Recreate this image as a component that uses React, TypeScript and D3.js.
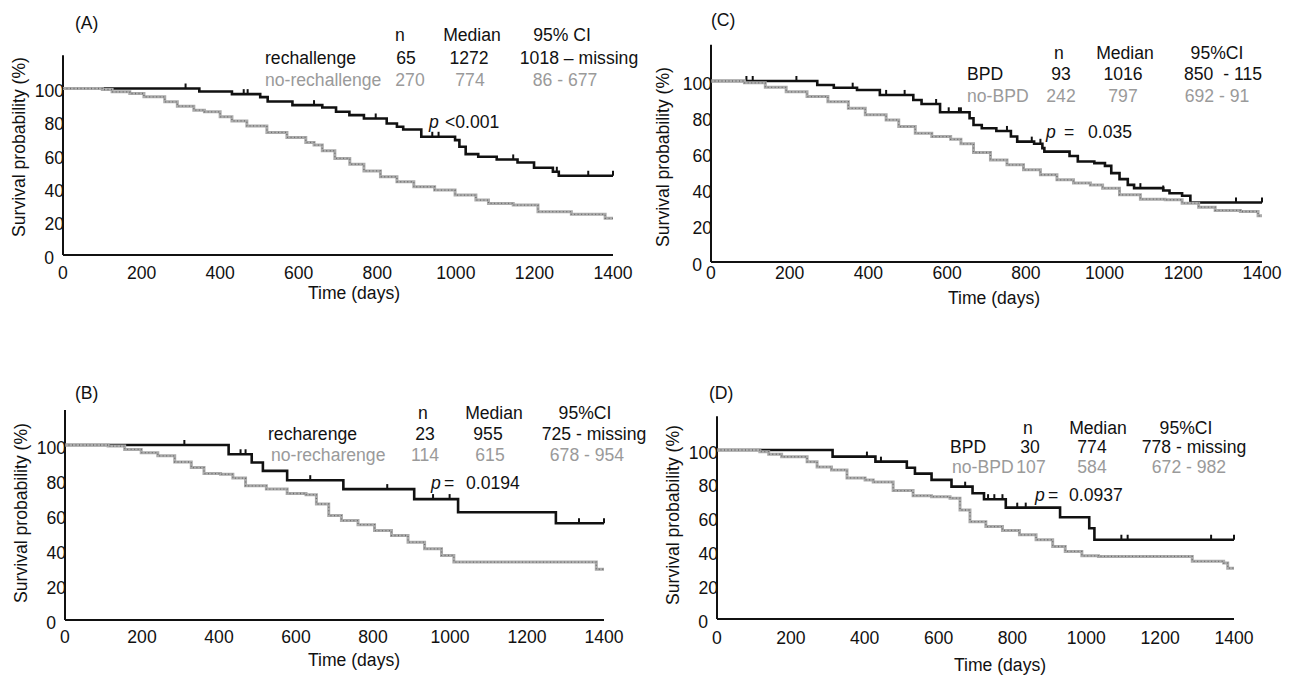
import React from 'react';
import * as d3 from 'd3';

type Pt = [number, number];

const xTicks = [0, 200, 400, 600, 800, 1000, 1200, 1400];
const yTicks = [0, 20, 40, 60, 80, 100];

// ---------- Panel A ----------
const aRechallenge: Pt[] = [[0,100],[347,98.2],[430,96.6],[502,94.8],[521,92.2],[584,90],[660,88.6],[695,86],[729,84],[766,82],[824,79],[850,77],[866,75.4],[912,71],[998,69],[1009,65],[1025,60.6],[1057,59],[1104,57.4],[1157,55.6],[1199,52.4],[1247,50],[1262,47.6],[1400,47.6]];
const aRechallengeCensor = [312, 460, 470, 639, 796, 940, 956, 1146, 1257, 1337, 1400];
const aNoRechallenge: Pt[] = [[0,100],[100,99.4],[125,98],[170,97],[206,95],[259,92],[291,89.4],[333,87],[360,86],[400,83],[430,80.5],[468,77.5],[519,73.6],[570,70.6],[618,67.6],[639,66],[660,62.6],[692,58],[730,54.5],[766,50.5],[808,47],[850,44],[893,41],[946,39],[998,36],[1051,33],[1083,31],[1146,30],[1209,26],[1294,24.4],[1380,22],[1400,22]];
const aHeader = ['n', 'Median', '95% CI'];
const aRow1 = ['rechallenge', '65', '1272', '1018 – missing'];
const aRow2 = ['no-rechallenge', '270', '774', '86 - 677'];
const aP = ['p', '', '<0.001'];

// ---------- Panel B ----------
const bRecharenge: Pt[] = [[0,100],[425,94.7],[485,90],[514,85.2],[577,79.9],[723,74.8],[907,69.1],[1021,61.6],[1275,55.3],[1400,55.3]];
const bRecharengeCensor = [310, 456, 469, 637, 837, 956, 999, 1335, 1400];
const bNoRecharenge: Pt[] = [[0,100],[112,99.4],[155,97.5],[198,95.6],[241,93.8],[285,90.3],[328,87.1],[361,83.7],[404,83.3],[436,81.1],[469,76.7],[523,74.8],[577,72.3],[626,71.6],[653,66.3],[685,59.7],[718,56.8],[761,54.5],[804,51.1],[848,48.3],[891,44.5],[934,40.7],[978,36.9],[1010,33.1],[1380,29],[1400,29]];
const bHeader = ['n', 'Median', '95%CI'];
const bRow1 = ['recharenge', '23', '955', '725 - missing'];
const bRow2 = ['no-recharenge', '114', '615', '678 - 954'];
const bP = ['p', '=', '0.0194'];

// ---------- Panel C ----------
const cBPD: Pt[] = [[0,100],[270,97.8],[312,96.3],[371,95],[429,92.3],[514,89.5],[535,87.3],[582,82.7],[657,79.4],[667,75.7],[688,73.9],[725,72.4],[762,69.3],[778,66.5],[821,65.3],[842,62.9],[847,61],[911,58.6],[932,55.5],[974,54.6],[1001,53.1],[1017,49.1],[1038,45.8],[1059,42.6],[1075,40.8],[1149,39.5],[1165,38],[1197,36.6],[1218,32.9],[1400,32.9]];
const cBPDCensor = [90, 106, 217, 360, 445, 492, 572, 604, 630, 635, 752, 815, 837, 1091, 1149, 1334, 1400];
const cNoBPD: Pt[] = [[0,100],[85,99],[138,96.5],[191,94],[244,91.4],[297,88.6],[349,84.9],[392,81.3],[445,78.5],[477,74.8],[519,71.1],[561,69.3],[609,67.8],[635,65.3],[667,60.5],[710,56.4],[752,53.7],[794,50.9],[837,48.2],[879,45.4],[921,43.6],[964,42.6],[995,40.8],[1038,37.1],[1091,34.7],[1154,34.4],[1197,32.5],[1239,30.3],[1281,28.5],[1345,27.9],[1390,25.5],[1400,25.5]];
const cHeader = ['n', 'Median', '95%CI'];
const cRow1 = ['BPD', '93', '1016', '850  - 115'];
const cRow2 = ['no-BPD', '242', '797', '692 - 91'];
const cP = ['p', '=', '0.035'];

// ---------- Panel D ----------
const dBPD: Pt[] = [[0,100],[313,96.1],[429,93.1],[514,89.5],[536,86],[581,82.3],[635,78.3],[692,74.4],[723,70.9],[782,65.9],[929,60.2],[1008,53.7],[1022,46.9],[1400,46.9]];
const dBPDCensor = [406, 444, 672, 734, 751, 773, 813, 836, 1095, 1112, 1338, 1400];
const dNoBPD: Pt[] = [[0,100],[116,99],[140,97.5],[175,96],[244,93],[271,90],[310,88.2],[352,83.5],[401,82.3],[423,81],[477,76],[531,73],[581,72.4],[631,71.5],[658,64.5],[685,57.6],[728,54.7],[773,52.4],[819,49.8],[864,46.9],[909,42.9],[943,40],[988,37.4],[1033,37],[1287,34.1],[1372,33.1],[1383,30.1],[1400,30.1]];
const dHeader = ['n', 'Median', '95%CI'];
const dRow1 = ['BPD', '30', '774', '778 - missing'];
const dRow2 = ['no-BPD', '107', '584', '672 - 982'];
const dP = ['p', '=', '0.0937'];

// ---------- Layout (positions only) ----------
interface Layout {
  label: string;
  x0: number; x1: number; y0: number; y100: number;
  xTickDy: number;
  yTitle: [number, number];
  xTitle: [number, number];
  tag: [number, number];
  headX: number[]; headY: number;
  row1X: number[]; row1Y: number;
  row2X: number[]; row2Y: number;
  pX: number[]; pY: number;
}

const FONT = '"Liberation Sans", Arial, Helvetica, sans-serif';
const FS = 17.6;
const GRAY_TXT = '#9a9a9a';

const layA: Layout = {
  label: '(A)', x0: 63, x1: 613, y0: 255, y100: 88.5, xTickDy: 24,
  yTitle: [19, 147], xTitle: [354, 299], tag: [75, 29],
  headX: [400, 472, 562], headY: 41,
  row1X: [265, 406, 469, 579], row1Y: 64,
  row2X: [265, 410, 470, 565], row2Y: 86,
  pX: [429, 0, 445], pY: 128,
};
const layB: Layout = {
  label: '(B)', x0: 65, x1: 604, y0: 620, y100: 445, xTickDy: 23,
  yTitle: [21, 513], xTitle: [354, 666], tag: [75, 399],
  headX: [423, 494, 585], headY: 419,
  row1X: [268, 425, 488, 594], row1Y: 440,
  row2X: [271, 425, 490, 587], row2Y: 461,
  pX: [431, 444, 466], pY: 489,
};
const layC: Layout = {
  label: '(C)', x0: 711, x1: 1262, y0: 262, y100: 81, xTickDy: 17,
  yTitle: [663, 157], xTitle: [994, 304], tag: [711, 26],
  headX: [1059, 1125, 1217], headY: 59,
  row1X: [967, 1061, 1123, 1223], row1Y: 80,
  row2X: [967, 1061, 1123, 1217], row2Y: 102,
  pX: [1046, 1064, 1088], pY: 138,
};
const layD: Layout = {
  label: '(D)', x0: 717, x1: 1234, y0: 619, y100: 450, xTickDy: 25,
  yTitle: [673, 515], xTitle: [1000, 671], tag: [709, 399],
  headX: [1028, 1098, 1186], headY: 434,
  row1X: [950, 1030, 1092, 1194], row1Y: 453,
  row2X: [952, 1031, 1092, 1189], row2Y: 473,
  pX: [1035, 1048, 1069], pY: 501,
};

interface PanelData {
  black: Pt[]; censor: number[]; gray: Pt[];
  header: string[]; row1: string[]; row2: string[]; p: string[];
}

const stepAt = (pts: Pt[], t: number) => {
  let v = pts[0][1];
  for (const p of pts) { if (p[0] <= t) v = p[1]; else break; }
  return v;
};

const Panel: React.FC<{ lay: Layout; data: PanelData }> = ({ lay, data }) => {
  const x = d3.scaleLinear().domain([0, 1400]).range([lay.x0, lay.x1]);
  const y = d3.scaleLinear().domain([0, 100]).range([lay.y0, lay.y100]);
  const line = d3.line<Pt>().x(d => x(d[0])).y(d => y(d[1])).curve(d3.curveStepAfter);
  const txt = { fontFamily: FONT, fontSize: FS } as const;
  return (
    <g>
      <text x={lay.tag[0]} y={lay.tag[1]} {...txt} fill="#111">{lay.label}</text>
      {/* axes */}
      <line x1={x(0)} x2={x(0)} y1={y(0)} y2={y(120)} stroke="#111" strokeWidth={2} />
      <line x1={x(0)} x2={x(1400)} y1={y(0)} y2={y(0)} stroke="#111" strokeWidth={2} />
      {yTicks.map(t => (
        <text key={'y' + t} x={t === 0 ? x(0) - 9 : x(0) + 1} y={y(t) + 8.5} textAnchor="end" {...txt} fill="#111">{t}</text>
      ))}
      {xTicks.map(t => (
        <text key={'x' + t} x={x(t)} y={y(0) + lay.xTickDy} textAnchor="middle" {...txt} fill="#111">{t}</text>
      ))}
      <text transform={`translate(${lay.yTitle[0]},${lay.yTitle[1]}) rotate(-90)`} textAnchor="middle" dy="0.35em" {...txt} fill="#111">Survival probability (%)</text>
      <text x={lay.xTitle[0]} y={lay.xTitle[1]} textAnchor="middle" {...txt} fill="#111">Time (days)</text>
      {/* curves */}
      <path d={line(data.black) || ''} fill="none" stroke="#111" strokeWidth={2.6} />
      {data.censor.map((c, i) => (
        <line key={'c' + i} x1={x(c)} x2={x(c)} y1={y(stepAt(data.black, c))} y2={y(stepAt(data.black, c)) - 5} stroke="#111" strokeWidth={2} />
      ))}
      <path d={line(data.gray) || ''} fill="none" stroke="#ababab" strokeWidth={3} />
      <path d={line(data.gray) || ''} fill="none" stroke="#6e6e6e" strokeWidth={1.3} strokeDasharray="1 2.5" />
      {/* legend table */}
      {data.header.map((h, i) => (
        <text key={'h' + i} x={lay.headX[i]} y={lay.headY} textAnchor="middle" {...txt} fill="#111">{h}</text>
      ))}
      {data.row1.map((h, i) => (
        <text key={'r1' + i} x={lay.row1X[i]} y={lay.row1Y} textAnchor={i === 0 ? 'start' : 'middle'} {...txt} fill="#111" style={{ whiteSpace: 'pre' }}>{h}</text>
      ))}
      {data.row2.map((h, i) => (
        <text key={'r2' + i} x={lay.row2X[i]} y={lay.row2Y} textAnchor={i === 0 ? 'start' : 'middle'} {...txt} fill={GRAY_TXT} style={{ whiteSpace: 'pre' }}>{h}</text>
      ))}
      <text x={lay.pX[0]} y={lay.pY} {...txt} fontStyle="italic" fill="#111">{data.p[0]}</text>
      {data.p[1] && <text x={lay.pX[1]} y={lay.pY} {...txt} fill="#111">{data.p[1]}</text>}
      <text x={lay.pX[2]} y={lay.pY} {...txt} fill="#111">{data.p[2]}</text>
    </g>
  );
};

export default function App() {
  return (
    <svg width={1290} height={677} style={{ position: 'absolute', left: 0, top: 0, background: '#fff' }}>
      <rect width={1290} height={677} fill="#fff" />
      <Panel lay={layA} data={{ black: aRechallenge, censor: aRechallengeCensor, gray: aNoRechallenge, header: aHeader, row1: aRow1, row2: aRow2, p: aP }} />
      <Panel lay={layB} data={{ black: bRecharenge, censor: bRecharengeCensor, gray: bNoRecharenge, header: bHeader, row1: bRow1, row2: bRow2, p: bP }} />
      <Panel lay={layC} data={{ black: cBPD, censor: cBPDCensor, gray: cNoBPD, header: cHeader, row1: cRow1, row2: cRow2, p: cP }} />
      <Panel lay={layD} data={{ black: dBPD, censor: dBPDCensor, gray: dNoBPD, header: dHeader, row1: dRow1, row2: dRow2, p: dP }} />
    </svg>
  );
}
